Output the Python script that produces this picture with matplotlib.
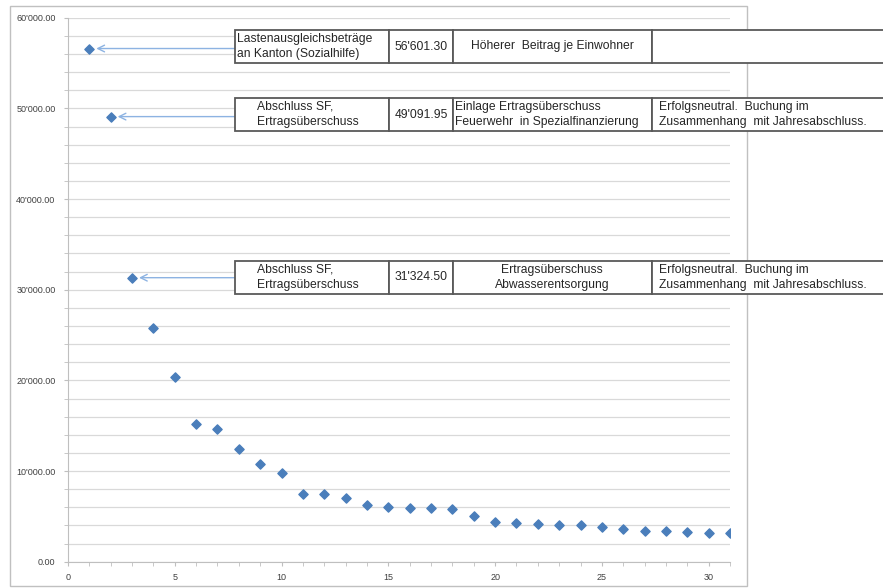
import matplotlib.pyplot as plt
from matplotlib.patches import Rectangle
from matplotlib.ticker import MultipleLocator, FuncFormatter

plt.rcParams['font.family'] = ['Liberation Sans', 'DejaVu Sans']

# data
x_vals = list(range(1, 32))
y_vals = [56601.30, 49091.95, 31324.50, 25770, 20360, 15150, 14630, 12460,
          10740, 9810, 7460, 7460, 7020, 6290, 6030, 5950, 5890, 5850, 5070,
          4340, 4230, 4200, 4010, 4010, 3860, 3600, 3420, 3380, 3310, 3200, 3160]

# annotated rows: (point index, column texts)
notes = [
    (0, ["Lastenausgleichsbeträge\nan Kanton (Sozialhilfe)", "56'601.30",
         "Höherer  Beitrag je Einwohner", ""]),
    (1, ["Abschluss SF,\nErtragsüberschuss", "49'091.95",
         "Einlage Ertragsüberschuss\nFeuerwehr  in Spezialfinanzierung",
         "Erfolgsneutral.  Buchung im\nZusammenhang  mit Jahresabschluss."]),
    (2, ["Abschluss SF,\nErtragsüberschuss", "31'324.50",
         "Ertragsüberschuss\nAbwasserentsorgung",
         "Erfolgsneutral.  Buchung im\nZusammenhang  mit Jahresabschluss."]),
]

W, H = 883, 588
fig = plt.figure(figsize=(W / 100, H / 100), dpi=100)


def fx(px):
    return px / W


def fy(py):
    return 1 - py / H


# chart frame
fig.add_artist(Rectangle((fx(10), fy(586)), fx(737), 580 / H, fill=False,
                         edgecolor='#c0c0c0', lw=1.0, transform=fig.transFigure))

ax = fig.add_axes([fx(68), fy(561.7), fx(662), 544 / H])
ax.scatter(x_vals, y_vals, marker='D', s=22, color='#4a7ebb', zorder=3)
ax.set_xlim(0, 31)
ax.set_ylim(0, 60000)
ax.yaxis.set_major_locator(MultipleLocator(10000))
ax.yaxis.set_minor_locator(MultipleLocator(2000))
ax.xaxis.set_major_locator(MultipleLocator(5))
ax.xaxis.set_minor_locator(MultipleLocator(1))
ax.yaxis.set_major_formatter(FuncFormatter(lambda v, p: f"{v:,.2f}".replace(',', "'")))
ax.grid(True, which='both', axis='y', color='#d9d9d9', lw=0.9)
ax.set_axisbelow(True)
for s in ['top', 'right']:
    ax.spines[s].set_visible(False)
for s in ['left', 'bottom']:
    ax.spines[s].set_color('#bfbfbf')
ax.tick_params(which='both', colors='#bfbfbf', labelcolor='#404040',
               labelsize=6.5, length=3)
ax.tick_params(axis='x', pad=5)
ax.tick_params(axis='y', pad=6)

# tables
fs = 8.7
ls = 1.4
tc = '#262626'
cols = [235, 389, 453, 652, 895]
row_tops = [30, 98, 261]
row_h = 33
for (idx, texts), top in zip(notes, row_tops):
    for c in range(4):
        x0, x1 = cols[c], cols[c + 1]
        fig.add_artist(Rectangle((fx(x0), fy(top + row_h)), fx(x1 - x0), row_h / H,
                                 facecolor='white', edgecolor='#595959', lw=1.3,
                                 transform=fig.transFigure, zorder=4))
    ymid = fy(top + row_h / 2)
    t0, t1, t2, t3 = texts
    x_first = 237 if idx == 0 else 257
    fig.text(fx(x_first), ymid, t0, ha='left', va='center', fontsize=fs,
             linespacing=ls, color=tc, zorder=5)
    fig.text(fx((cols[1] + cols[2]) / 2), ymid, t1, ha='center', va='center',
             fontsize=fs, color=tc, zorder=5)
    if idx == 1:
        fig.text(fx(455), ymid, t2, ha='left', va='center', fontsize=fs,
                 linespacing=ls, color=tc, zorder=5)
    else:
        fig.text(fx(552), ymid, t2, ha='center', va='center', fontsize=fs,
                 linespacing=ls, color=tc, zorder=5)
    fig.text(fx(659), ymid, t3, ha='left', va='center', fontsize=fs,
             linespacing=ls, color=tc, zorder=5)

    # arrow from table to point
    ax.annotate('', xy=(x_vals[idx], y_vals[idx]),
                xytext=(fx(cols[0]), y_vals[idx]),
                xycoords='data', textcoords=('figure fraction', 'data'),
                arrowprops=dict(arrowstyle='->', color='#8db3e2', lw=1.0,
                                shrinkA=0, shrinkB=5, mutation_scale=12),
                zorder=3)

fig.savefig('out.png', dpi=100)
